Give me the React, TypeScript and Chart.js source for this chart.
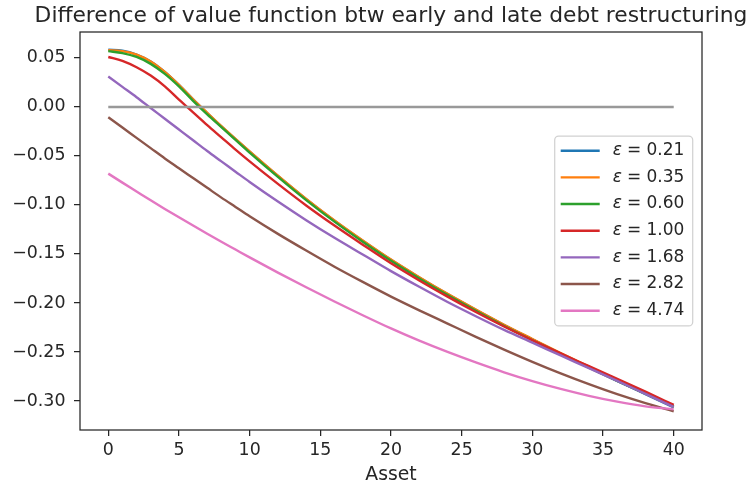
import React, { useEffect, useRef } from 'react';
import { Chart, registerables } from 'chart.js';

Chart.register(...registerables);

// ---------- data ----------
const X_VALUES = [0, 1, 2, 3, 4, 5, 6, 7, 8, 9, 10, 12, 14, 16, 18, 20, 22, 24, 26, 28, 30, 32, 34, 36, 38, 40];

const EPS_021 = [0.0585, 0.0575, 0.0535, 0.0465, 0.0358, 0.0225, 0.0078, -0.0062, -0.0198, -0.0328, -0.0455, -0.0703, -0.094, -0.116, -0.1365, -0.156, -0.174, -0.191, -0.207, -0.2225, -0.237, -0.2515, -0.2655, -0.2795, -0.293, -0.3065];
const EPS_035 = [0.058, 0.057, 0.0535, 0.0465, 0.0358, 0.0225, 0.0078, -0.006, -0.0196, -0.0326, -0.0453, -0.0701, -0.0938, -0.1158, -0.1362, -0.1557, -0.1737, -0.1907, -0.2067, -0.2222, -0.2367, -0.251, -0.265, -0.2788, -0.2923, -0.3058];
const EPS_060 = [0.057, 0.055, 0.051, 0.044, 0.0338, 0.021, 0.0063, -0.0075, -0.0205, -0.0335, -0.0465, -0.0713, -0.095, -0.117, -0.1375, -0.157, -0.175, -0.192, -0.208, -0.2235, -0.238, -0.252, -0.266, -0.2795, -0.2925, -0.3055];
const EPS_100 = [0.051, 0.047, 0.0405, 0.032, 0.021, 0.0075, -0.0055, -0.0185, -0.031, -0.0435, -0.0555, -0.0785, -0.1005, -0.121, -0.1405, -0.1595, -0.177, -0.1935, -0.2092, -0.224, -0.238, -0.2515, -0.2645, -0.2775, -0.2905, -0.304];
const EPS_168 = [0.031, 0.0205, 0.01, -0.001, -0.012, -0.023, -0.034, -0.045, -0.0555, -0.066, -0.0765, -0.0965, -0.1155, -0.1335, -0.1505, -0.1675, -0.1835, -0.199, -0.2135, -0.2275, -0.2405, -0.2535, -0.2665, -0.2795, -0.2928, -0.306];
const EPS_282 = [-0.0105, -0.021, -0.0315, -0.042, -0.0525, -0.0625, -0.0725, -0.0825, -0.0925, -0.102, -0.1115, -0.1295, -0.1465, -0.163, -0.1785, -0.1935, -0.2075, -0.221, -0.2345, -0.2475, -0.26, -0.2718, -0.2828, -0.293, -0.3022, -0.3105];
const EPS_474 = [-0.068, -0.0772, -0.0862, -0.0952, -0.104, -0.1126, -0.121, -0.1293, -0.1375, -0.1455, -0.1535, -0.169, -0.184, -0.1985, -0.2125, -0.226, -0.2385, -0.25, -0.2607, -0.2707, -0.2797, -0.2877, -0.2947, -0.3007, -0.3055, -0.3085];

const SERIES = [EPS_021, EPS_035, EPS_060, EPS_100, EPS_168, EPS_282, EPS_474];
const SERIES_LABELS = ['ε = 0.21', 'ε = 0.35', 'ε = 0.60', 'ε = 1.00', 'ε = 1.68', 'ε = 2.82', 'ε = 4.74'];
const SERIES_COLORS = ['#1f77b4', '#ff7f0e', '#2ca02c', '#d62728', '#9467bd', '#8c564b', '#e377c2'];

const ZERO_X = [0, 40];
const ZERO_Y = [0, 0];

const X_TICKS = [0, 5, 10, 15, 20, 25, 30, 35, 40];
const Y_TICKS = [0.05, 0.0, -0.05, -0.1, -0.15, -0.2, -0.25, -0.3];

const TITLE = 'Difference of value function btw early and late debt restructuring';
const X_LABEL = 'Asset';

const TEXT_COLOR = '#262626';
const FONT = '"DejaVu Sans", sans-serif';

// ---------- plugins ----------
const framePlugin = {
  id: 'frame',
  afterDatasetsDraw(chart: any) {
    const { ctx, chartArea: a } = chart;
    ctx.save();
    ctx.strokeStyle = TEXT_COLOR;
    ctx.lineWidth = 1.25;
    ctx.strokeRect(a.left, a.top, a.right - a.left, a.bottom - a.top);
    ctx.restore();
  },
};

const titlePlugin = {
  id: 'mplTitle',
  afterDraw(chart: any) {
    const { ctx, chartArea: a } = chart;
    ctx.save();
    ctx.fillStyle = TEXT_COLOR;
    ctx.font = `21.8px ${FONT}`;
    ctx.textAlign = 'center';
    ctx.textBaseline = 'alphabetic';
    ctx.fillText(TITLE, (a.left + a.right) / 2, 21.5);
    ctx.restore();
  },
};

const legendPlugin = {
  id: 'mplLegend',
  afterDraw(chart: any) {
    const { ctx, chartArea: a } = chart;
    const items = chart.data.datasets.filter((d: any) => !d.hideInLegend);
    const rowH = 26.67;
    const boxW = 138;
    const boxH = 14.6 * 2 + rowH * (items.length - 1) + 0.6;
    const boxRight = a.right - 9.3;
    const boxLeft = boxRight - boxW;
    const boxTop = (a.top + a.bottom) / 2 - boxH / 2;
    ctx.save();
    ctx.beginPath();
    const r = 4;
    ctx.moveTo(boxLeft + r, boxTop);
    ctx.arcTo(boxRight, boxTop, boxRight, boxTop + boxH, r);
    ctx.arcTo(boxRight, boxTop + boxH, boxLeft, boxTop + boxH, r);
    ctx.arcTo(boxLeft, boxTop + boxH, boxLeft, boxTop, r);
    ctx.arcTo(boxLeft, boxTop, boxRight, boxTop, r);
    ctx.closePath();
    ctx.fillStyle = 'rgba(255,255,255,0.8)';
    ctx.fill();
    ctx.strokeStyle = 'rgba(204,204,204,0.9)';
    ctx.lineWidth = 1.25;
    ctx.stroke();

    items.forEach((d: any, i: number) => {
      const y = boxTop + 14.6 + i * rowH;
      ctx.strokeStyle = d.borderColor;
      ctx.lineWidth = 2.4;
      ctx.beginPath();
      ctx.moveTo(boxLeft + 6, y);
      ctx.lineTo(boxLeft + 45, y);
      ctx.stroke();
      const label: string = d.label;
      const sym = label.charAt(0);
      const rest = label.slice(1).trim();
      ctx.fillStyle = TEXT_COLOR;
      ctx.textBaseline = 'middle';
      ctx.textAlign = 'left';
      const tx = boxLeft + 58;
      ctx.font = `italic 17px ${FONT}`;
      ctx.fillText(sym, tx, y);
      const w = ctx.measureText(sym).width;
      ctx.font = `17px ${FONT}`;
      ctx.fillText(rest, tx + w + 5, y);
    });
    ctx.restore();
  },
};

const fmtY = (v: number) => {
  const s = Math.abs(v).toFixed(2);
  return v < -1e-9 ? '\u2212' + s : s;
};

export default function App() {
  const canvasRef = useRef<HTMLCanvasElement | null>(null);

  useEffect(() => {
    const canvas = canvasRef.current;
    if (!canvas) return;

    const datasets: any[] = SERIES.map((vals, i) => ({
      label: SERIES_LABELS[i],
      data: X_VALUES.map((x, j) => ({ x, y: vals[j] })),
      borderColor: SERIES_COLORS[i],
      backgroundColor: SERIES_COLORS[i],
      borderWidth: 2.4,
      pointRadius: 0,
      fill: false,
      cubicInterpolationMode: 'monotone',
      order: 100 - i,
    }));
    datasets.push({
      label: 'zero',
      hideInLegend: true,
      data: ZERO_X.map((x, j) => ({ x, y: ZERO_Y[j] })),
      borderColor: '#999999',
      borderWidth: 2.4,
      pointRadius: 0,
      fill: false,
      order: 0,
    });

    const chart = new Chart(canvas, {
      type: 'line',
      data: { datasets },
      options: {
        animation: false,
        responsive: false,
        devicePixelRatio: 1,
        layout: { padding: { top: 32, right: 48, left: 0, bottom: 0 } },
        plugins: {
          legend: { display: false },
          title: { display: false },
          tooltip: { enabled: false },
        },
        scales: {
          x: {
            type: 'linear',
            min: -2,
            max: 42,
            afterBuildTicks: (s: any) => {
              s.ticks = X_TICKS.map((v) => ({ value: v }));
            },
            afterFit: (s: any) => {
              s.height = 58;
            },
            grid: {
              display: true,
              drawOnChartArea: false,
              drawTicks: true,
              tickLength: 6,
              color: TEXT_COLOR,
              lineWidth: 1.25,
            },
            border: { display: false },
            ticks: {
              color: TEXT_COLOR,
              font: { family: FONT, size: 17.4 },
              padding: 4.5,
              maxRotation: 0,
              callback: (v: any) => String(v),
            },
            title: {
              display: true,
              text: X_LABEL,
              color: TEXT_COLOR,
              font: { family: FONT, size: 18.8 },
              padding: { top: 0, bottom: 1.2 },
            },
          },
          y: {
            type: 'linear',
            min: -0.3296,
            max: 0.0765,
            afterBuildTicks: (s: any) => {
              s.ticks = Y_TICKS.map((v) => ({ value: v }));
            },
            afterFit: (s: any) => {
              s.width = 80;
            },
            grid: {
              display: true,
              drawOnChartArea: false,
              drawTicks: true,
              tickLength: 6,
              color: TEXT_COLOR,
              lineWidth: 1.25,
            },
            border: { display: false },
            ticks: {
              color: TEXT_COLOR,
              font: { family: FONT, size: 17.4 },
              padding: 8.5,
              callback: (v: any) => fmtY(Number(v)),
            },
          },
        },
      },
      plugins: [framePlugin, titlePlugin, legendPlugin],
    });

    return () => chart.destroy();
  }, []);

  return (
    <div style={{ position: 'fixed', left: 0, top: 0, width: 750, height: 488, background: '#ffffff' }}>
      <canvas ref={canvasRef} width={750} height={488} style={{ display: 'block' }} />
    </div>
  );
}
